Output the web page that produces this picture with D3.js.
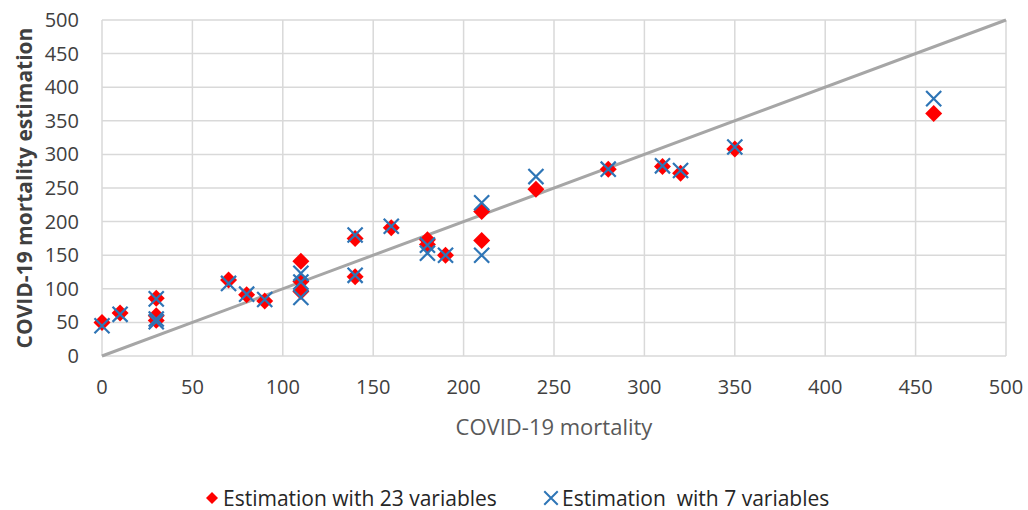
<!DOCTYPE html>
<html>
<head>
<meta charset="utf-8">
<script src="https://cdn.jsdelivr.net/npm/d3@7"></script>
<style>
  body { margin: 0; background: #fff; }
  text { font-family: "Open Sans", "Noto Sans", sans-serif; }
</style>
</head>
<body>
<svg id="chart"></svg>
<script>
// observed mortality (x) and the two model estimations (y)
const mortality = [0, 10, 30, 30, 30, 70, 80, 90, 110, 110, 110, 140, 140, 160, 180, 180, 190, 210, 210, 240, 280, 310, 320, 350, 460];
const est23 = [50, 64, 86, 60, 53, 113, 91, 82, 141, 111, 96, 175, 118, 191, 173, 166, 150, 215, 172, 248, 278, 282, 272, 308, 361];
const est7 = [45, 62, 85, 55, 51, 108, 92, 84, 123, 110, 87, 180, 120, 193, 165, 153, 150, 228, 150, 267, 278, 283, 276, 311, 383];
const ticks = [0, 50, 100, 150, 200, 250, 300, 350, 400, 450, 500];
const legendLabels = ['Estimation with 23 variables', 'Estimation  with 7 variables'];

const size = {w: 1028, h: 510};
const margin = {t: 20, r: 22, b: 154, l: 102};

const svg = d3.select('svg#chart')
    .attr('width', size.w)
    .attr('height', size.h);

const x = d3.scaleLinear().domain([0, 500]).range([margin.l, size.w - margin.r]);
const y = d3.scaleLinear().domain([0, 500]).range([size.h - margin.b, margin.t]);

// grid
const grid = svg.append('g').attr('stroke', '#d9d9d9').attr('stroke-width', 1.5);
grid.selectAll('line.h')
    .data(ticks)
    .join('line')
    .classed('h', true)
    .attr('x1', x(0)).attr('x2', x(500))
    .attr('y1', d => y(d)).attr('y2', d => y(d));
grid.selectAll('line.v')
    .data(ticks)
    .join('line')
    .classed('v', true)
    .attr('y1', y(0)).attr('y2', y(500))
    .attr('x1', d => x(d)).attr('x2', d => x(d));

// tick labels
svg.append('g')
    .selectAll('text')
    .data(ticks)
    .join('text')
    .attr('x', d => x(d))
    .attr('y', y(0) + 38)
    .attr('text-anchor', 'middle')
    .attr('font-size', 20)
    .attr('fill', '#404040')
    .text(d => d);

svg.append('g')
    .selectAll('text')
    .data(ticks)
    .join('text')
    .attr('x', 79)
    .attr('y', d => y(d) + 7)
    .attr('text-anchor', 'end')
    .attr('font-size', 20)
    .attr('fill', '#404040')
    .text(d => d);

// diagonal y = x
svg.append('line')
    .attr('x1', x(0)).attr('y1', y(0))
    .attr('x2', x(500)).attr('y2', y(500))
    .attr('stroke', '#a6a6a6')
    .attr('stroke-width', 3);

const points = mortality.map((m, i) => ({m: m, a: est23[i], b: est7[i]}));

const square = d3.symbol().type(d3.symbolSquare).size(144);
const cross = d3.symbol().type(d3.symbolX).size(150);

svg.append('g')
    .selectAll('path')
    .data(points)
    .join('path')
    .attr('d', square)
    .attr('transform', d => `translate(${x(d.m)}, ${y(d.a)}) rotate(45)`)
    .attr('fill', '#ff0000');

svg.append('g')
    .selectAll('path')
    .data(points)
    .join('path')
    .attr('transform', d => `translate(${x(d.m)}, ${y(d.b)})`)
    .attr('d', cross)
    .attr('fill', 'none')
    .attr('stroke', '#2e75b6')
    .attr('stroke-width', 2.2);

// axis titles
svg.append('text')
    .attr('x', (x(0) + x(500)) / 2)
    .attr('y', 435)
    .attr('text-anchor', 'middle')
    .attr('font-size', 22)
    .attr('fill', '#595959')
    .text('COVID-19 mortality');

svg.append('text')
    .attr('transform', `translate(32, ${(y(0) + y(500)) / 2}) rotate(-90)`)
    .attr('text-anchor', 'middle')
    .attr('font-size', 21)
    .attr('font-weight', 'bold')
    .attr('fill', '#404040')
    .text('COVID-19 mortality estimation');

// legend
const legend = svg.append('g').attr('transform', 'translate(0, 498)');
legend.append('path')
    .attr('transform', 'translate(212, 0) rotate(45)')
    .attr('d', d3.symbol().type(d3.symbolSquare).size(72))
    .attr('fill', '#ff0000');
legend.append('path')
    .attr('transform', 'translate(551, 0)')
    .attr('d', d3.symbol().type(d3.symbolX).size(120))
    .attr('fill', 'none')
    .attr('stroke', '#2e75b6')
    .attr('stroke-width', 2);
legend.selectAll('text')
    .data(legendLabels)
    .join('text')
    .attr('x', (d, i) => i === 0 ? 223 : 562)
    .attr('y', 7.5)
    .attr('font-size', 21)
    .attr('fill', '#262626')
    .style('white-space', 'pre')
    .text(d => d);
</script>
</body>
</html>
